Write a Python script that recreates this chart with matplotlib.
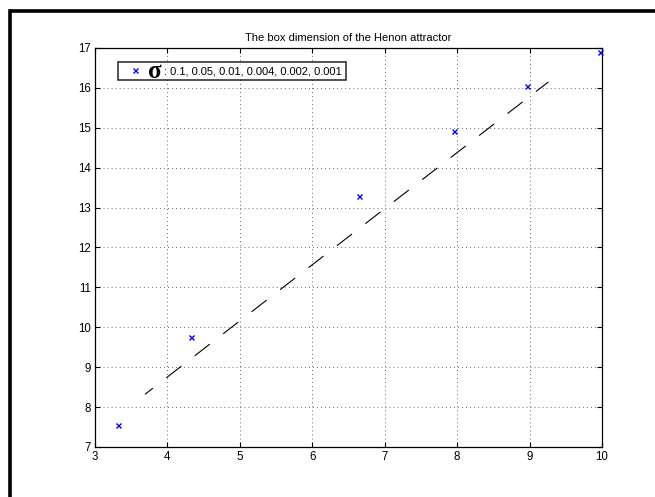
import matplotlib
matplotlib.use("Agg")
import matplotlib.pyplot as plt
from matplotlib.lines import Line2D
import numpy as np

plt.rcParams['font.family'] = ['Liberation Sans', 'DejaVu Sans']
plt.rcParams['lines.scale_dashes'] = False

# data
log_inv_sigma = [3.32, 4.33, 6.65, 7.96, 8.97, 9.97]
log_boxes = [7.55, 9.76, 13.29, 14.93, 16.05, 16.90]
fit_x = [3.69, 9.26]
fit_y = [8.32, 16.15]
sigma_labels = ["0.1", "0.05", "0.01", "0.004", "0.002", "0.001"]
xticks = [3, 4, 5, 6, 7, 8, 9, 10]
yticks = [7, 8, 9, 10, 11, 12, 13, 14, 15, 16, 17]
title = "The box dimension of the Henon attractor"

fig = plt.figure(figsize=(6.55, 4.97), dpi=100)
ax = fig.add_axes([95/655, 50/497, 507/655, 399/497])

ax.plot(fit_x, fit_y, color='black', lw=0.8, linestyle=(6.5, (13.7, 12.2)), zorder=3)
ax.plot(log_inv_sigma, log_boxes, linestyle='none', marker='x', color='blue',
        markersize=3.6, markeredgewidth=1.0, clip_on=False, zorder=4,
        label=": " + ", ".join(sigma_labels))

ax.set_xlim(3, 10)
ax.set_ylim(7, 17)
ax.set_xticks(xticks)
ax.set_yticks(yticks)
ax.tick_params(direction='in', length=3.6, width=0.8, top=True, right=True,
               labelsize=8.3, colors='black', pad=3)
for s in ax.spines.values():
    s.set_linewidth(0.9)
ax.grid(True, linestyle=(0, (0.7, 2.2)), color='#555555', lw=0.6)
ax.set_axisbelow(True)
ax.set_title(title, fontsize=8, pad=5)

leg = ax.legend(loc='upper left', bbox_to_anchor=(23/507, 1 - 14/399), fontsize=8,
                frameon=True, fancybox=False, edgecolor='black', borderpad=0.38,
                handlelength=2.3, handletextpad=1.45, borderaxespad=0)
leg.get_frame().set_linewidth(1.2)
leg.get_frame().set_facecolor('white')

ax.text((155 - 95)/507, 1 - (72 - 48)/399, "σ", transform=ax.transAxes,
        fontsize=18, fontweight='bold', family=['Liberation Serif', 'DejaVu Serif'],
        ha='center', va='center', zorder=10)

# outer frame (top and left lines)
fig.add_artist(Line2D([10/655, 1.0], [1 - 11/497, 1 - 11/497], color='black', lw=2.6,
                      transform=fig.transFigure, solid_capstyle='butt'))
fig.add_artist(Line2D([10/655, 10/655], [0, 1 - 11/497], color='black', lw=2.6,
                      transform=fig.transFigure, solid_capstyle='projecting'))

fig.savefig("out.png", dpi=100)
